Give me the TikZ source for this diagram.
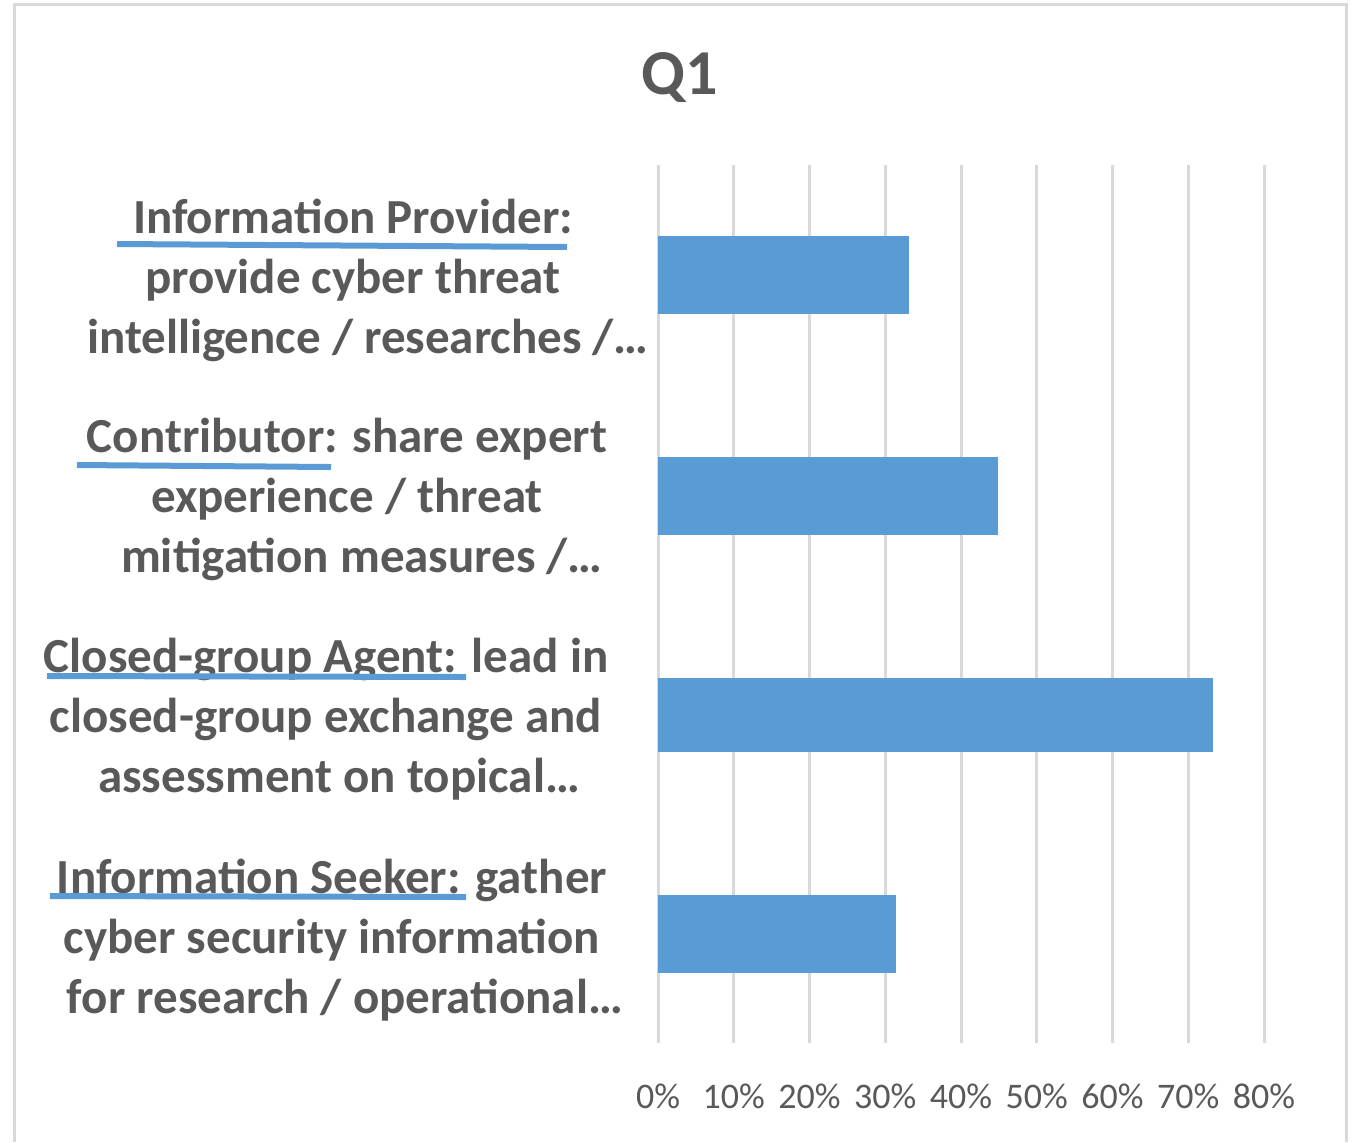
\documentclass[tikz,border=0pt]{standalone}
\usepackage{fontspec}
\setmainfont{Carlito}
\usepackage{xcolor}
\definecolor{txtgray}{HTML}{595959}
\definecolor{gridgray}{HTML}{D9D9D9}
\definecolor{barblue}{HTML}{5B9BD5}

\begin{document}
\begin{tikzpicture}[x=0.5pt,y=-0.5pt]
    \tikzstyle{title}=[font=\bfseries\fontsize{32}{38}\selectfont,text=txtgray]
    \tikzstyle{category}=[align=center,font=\bfseries\fontsize{24.5}{30}\selectfont,text=txtgray,inner sep=0]
    \tikzstyle{tick}=[font=\fontsize{18}{22}\selectfont,text=txtgray,inner sep=0,anchor=base]
    \tikzstyle{grid line}=[draw=gridgray,line width=1.5pt]
    \tikzstyle{bar}=[fill=barblue]
    \tikzstyle{mark line}=[draw=barblue,line width=3pt]

    \useasboundingbox (0,0) rectangle (1353,1142);
    % chart frame, bottom edge is cut off
    \draw[grid line] (14,1142) -- (14,4) -- (1346,4) -- (1346,1142);
    \node(q1)[title] at (680,78) {Q1};
    % grid lines and axis
    \foreach \i/\pct in {0/0,1/10,2/20,3/30,4/40,5/50,6/60,7/70,8/80}{
        \draw[grid line] (658+75.75*\i,165) -- (658+75.75*\i,1043);
        \node(t\i)[tick] at (658+75.75*\i,1108) {\pct\%};
    }
    % bars
    \fill[bar] (658,236) rectangle (909,314);
    \fill[bar] (658,457) rectangle (998,535);
    \fill[bar] (658,678) rectangle (1213,752);
    \fill[bar] (658,895) rectangle (896,973);
    % categories (last line sits a bit to the right)
    \node(c1)[category] at (353,280) {Information Provider:\\
        provide cyber threat\\
        \hspace*{15pt}intelligence / researches /\dots};
    \node(c2)[category] at (347,499) {Contributor: share expert\\
        experience / threat\\
        \hspace*{15pt}mitigation measures /\dots};
    \node(c3)[category] at (326,719) {Closed-group Agent: lead in\\
        closed-group exchange and\\
        \hspace*{13pt}assessment on topical\dots};
    \node(c4)[category] at (332,940) {Information Seeker: gather\\
        cyber security information\\
        \hspace*{13pt}for research / operational\dots};
    % hand-drawn underlines
    \draw[mark line] (117,244) -- (567,247);
    \draw[mark line] (77,465) -- (331,467);
    \draw[mark line] (47,676) -- (466,677);
    \draw[mark line] (50,896) -- (466,897);
\end{tikzpicture}
\end{document}
